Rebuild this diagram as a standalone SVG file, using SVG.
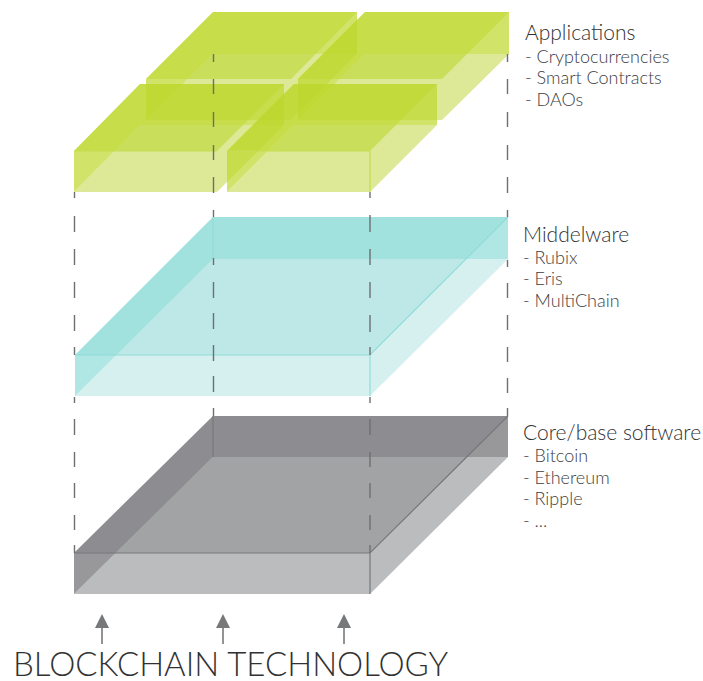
<svg xmlns="http://www.w3.org/2000/svg" width="703" height="681" viewBox="0 0 703 681">
<style>
text{font-family:Lato,"Liberation Sans",sans-serif;font-weight:300;fill:#2f2f31}
.h{font-size:21px}.s{font-size:18px;fill:#3c3c3e}.t{font-size:33px}
.d{stroke:#6f6f71;stroke-width:1.4;fill:none}
.a{stroke:#77787a;stroke-width:1.6;fill:none}
.b{fill:#dde997}.f{fill:#b5d31f;fill-opacity:.5}.l{fill:#bfd82f;fill-opacity:.72}.e{fill:none;stroke:#c6dd52;stroke-width:1.2}
</style>
<defs>
<marker id="ah" viewBox="0 0 14 14" refX="1" refY="7" markerWidth="14" markerHeight="14" markerUnits="userSpaceOnUse" orient="auto"><path d="M0 0L14 7L0 14Z" fill="#77787a"/></marker>
</defs>
<g id="core">
<polygon points="74,594 370,594 508,457 213,457" fill="#bbbcbe"/>
<polygon points="74,553 370,553 508,416 213,416" fill="#6a6b6e" fill-opacity=".3"/>
<polygon points="74,553 213,416 508,416 508,457 213,457 74,594" fill="#77787b" fill-opacity=".76"/>
<path d="M74 553H370L508 416M370 553V594M213 416V457" fill="none" stroke="#77787b" stroke-width="1.2"/>
</g>
<g id="middleware">
<polygon points="75,396 370,396 508,259 213,259" fill="#d5f0ef"/>
<polygon points="75,355 370,355 508,217 213,217" fill="#71d3ce" fill-opacity=".24"/>
<polygon points="75,355 213,217 508,217 508,259 213,259 75,396" fill="#70d3ce" fill-opacity=".55"/>
<path d="M75 355H370L508 217M370 355V396M213 217V259" fill="none" stroke="#90dcd8" stroke-width="1.2"/>
</g>
<g id="applications">
<g id="app-back-left">
<polygon class="b" points="146,120 291,120 357,54 213,54"/>
<polygon class="f" points="146,79 291,79 357,12 213,12"/>
<polygon class="l" points="146,79 213,12 357,12 357,54 213,54 146,120"/>
</g>
<g id="app-back-right">
<polygon class="b" points="298,120 442,120 509,54 365,54"/>
<polygon class="f" points="298,79 442,79 509,12 365,12"/>
<polygon class="l" points="298,79 365,12 509,12 509,54 365,54 298,120"/>
</g>
<g id="app-front-left">
<polygon class="b" points="74,192 217,192 284,125 140,125"/>
<polygon class="f" points="74,151 217,151 284,84 140,84"/>
<polygon class="l" points="74,151 140,84 284,84 284,125 140,125 74,192"/>
<path class="e" d="M74 151H217"/>
</g>
<g id="app-front-right">
<polygon class="b" points="227,192 370,192 437,125 294,125"/>
<polygon class="f" points="227,151 370,151 437,84 294,84"/>
<polygon class="l" points="227,151 294,84 437,84 437,125 294,125 227,192"/>
<path class="e" d="M227 151H370V192"/>
</g>
</g>
<g id="connectors">
<path class="d" d="M213.5 54V62M213.5 79V94M213.5 112V127M213.5 145V160M213.5 177V193M74.5 192V198M74.5 216V232M74.5 249V265M74.5 282V298M74.5 315V331M74.5 347V355M74.5 397V403M74.5 419V435M74.5 452V467M74.5 483V498M74.5 515V530M74.5 545V553"/>
<path class="d" d="M370 192V198M370 215V232M370 249V265M370 282V298M370 315V332M370 347V355M370 397V403M370 419V435M370 452V467M370 483V498M370 515V530M370 545V553"/>
<path class="d" d="M213.5 210V217M213.5 258V265M213.5 282V298M213.5 313V329M213.5 345V361M213.5 376V392M213.5 408V416M507.5 54V62M507.5 79V94M507.5 112V127M507.5 145V160M507.5 177V193M507.5 210V217M507.5 260V267M507.5 283V298M507.5 315V330M507.5 347V362M507.5 378V393M507.5 408V416"/>
<path class="a" d="M102 644V627" marker-end="url(#ah)"/>
<path class="a" d="M223 644V627" marker-end="url(#ah)"/>
<path class="a" d="M344 644V627" marker-end="url(#ah)"/>
</g>
<g id="labels" opacity=".99">
<text class="h" x="525" y="40">Applications</text>
<text class="s" x="525" y="63">- Cryptocurrencies</text>
<text class="s" x="525" y="84">- Smart Contracts</text>
<text class="s" x="525" y="106">- DAOs</text>
<text class="h" x="523" y="242">Middelware</text>
<text class="s" x="523" y="264">- Rubix</text>
<text class="s" x="523" y="285">- Eris</text>
<text class="s" x="523" y="307">- MultiChain</text>
<text class="h" x="523" y="440">Core/base software</text>
<text class="s" x="523" y="462">- Bitcoin</text>
<text class="s" x="523" y="484">- Ethereum</text>
<text class="s" x="523" y="505">- Ripple</text>
<text class="s" x="523" y="527">- ...</text>
<text class="t" x="13" y="676">BLOCKCHAIN TECHNOLOGY</text>
</g>
</svg>
